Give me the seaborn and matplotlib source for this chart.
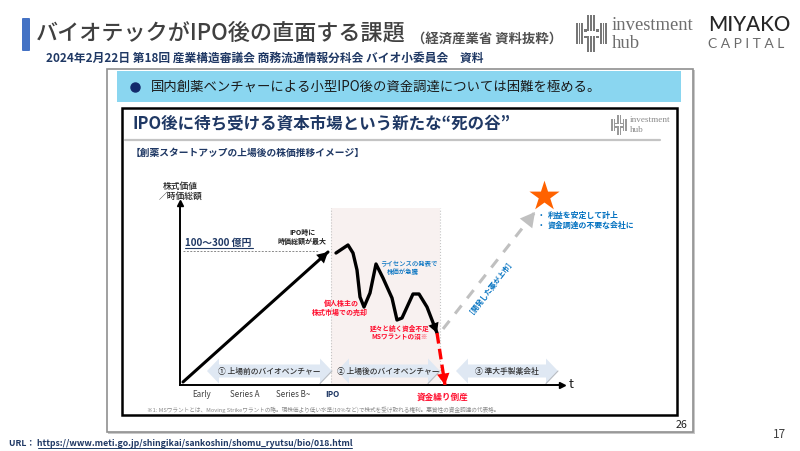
import matplotlib.pyplot as plt
import pandas as pd
import seaborn as sns
from matplotlib.patches import FancyBboxPatch, Polygon, Rectangle

W, H = 800, 451
NAVY = "#1f3864"
BLUE = "#0070c0"
RED = "#ff0d2d"

# values, x = time, y = market value (chart units)
pre_ipo_time = [3, 148]
pre_ipo_value = [3, 133]
post_ipo_time = [156, 168, 173, 177, 180, 184, 190, 196, 203, 212, 217, 222, 233, 239, 247, 257]
post_ipo_value = [132, 140, 132, 115, 88, 78, 92, 121, 107, 87, 65, 67, 91, 91, 78, 52]
failure_time = [257, 265]
failure_value = [52, 0]
success_time = [263, 355]
success_value = [56, 173]
star_time = [364]
star_value = [189]
ipo_window = [151, 260]
peak_value = 134

tick_pos = [21.5, 65, 113, 152]
tick_labels = ["Early", "Series A", "Series B~", "IPO"]
stage_names = ["① 上場前のバイオベンチャー", "② 上場後のバイオベンチャー", "③ 準大手製薬会社"]
stage_start = [27, 157, 276]
stage_end = [152, 260, 378]

sns.set_style("white")
plt.rcParams["font.family"] = ["Noto Sans CJK JP", "DejaVu Sans"]

fig = plt.figure(figsize=(W / 100, H / 100), dpi=100)


def label(x, y, s, size, color="#000000", weight="normal", ha="left", **kw):
    return fig.text(x / W, 1 - y / H, s, fontsize=size, color=color, fontweight=weight,
                    ha=ha, va="center", **kw)


# slide background, pixel coordinates
bg = fig.add_axes([0, 0, 1, 1], zorder=0)
bg.set_xlim(0, W)
bg.set_ylim(H, 0)
bg.axis("off")

bg.add_patch(FancyBboxPatch((23, 19), 6, 31, boxstyle="round,pad=1", fc="#4472c4", ec="none"))
bg.add_patch(Rectangle((108, 70), 587, 364, fc="#c8c8c8", ec="none"))
bg.add_patch(Rectangle((106.5, 68.5), 586, 363, fc="white", ec="#909090", lw=1.2))
bg.add_patch(Rectangle((117, 71), 564, 31, fc="#8ad6f0", ec="none"))
bg.add_patch(Rectangle((123, 109), 555, 307, fc="#b0b0b0", ec="none"))
bg.add_patch(Rectangle((121.5, 107.5), 555, 307, fc="white", ec="black", lw=1.8))
bg.plot([125, 660], [139.5, 139.5], color="#c4c4c4", lw=1.6)
bg.plot([0, W], [450.5, 450.5], color="#ececec", lw=0.8)
bg.plot([135], [87], "o", color="#12296b", ms=6.5)
bg.plot([38, 352], [448, 448], color=NAVY, lw=0.7)
bg.plot([185, 253], [248, 248], color=NAVY, lw=0.8)


def hub_logo(x, y, w, h, color):
    # striped building-block mark of the investment hub logo
    sw = w * 0.055
    for i in range(3):
        bg.add_patch(Rectangle((x + i * 1.6 * sw, y + h * 0.22), sw, h * 0.56, fc=color, ec="none"))
        bg.add_patch(Rectangle((x + w - sw - i * 1.6 * sw, y + h * 0.22), sw, h * 0.56, fc=color, ec="none"))
        bg.add_patch(Rectangle((x + w * 0.37 + i * 1.6 * sw, y), sw, h * 0.44, fc=color, ec="none"))
        bg.add_patch(Rectangle((x + w * 0.37 + i * 1.6 * sw, y + h * 0.56), sw, h * 0.44, fc=color, ec="none"))
    for top in (0.38, 0.56):
        bg.add_patch(Rectangle((x + w * 0.27, y + h * top), w * 0.1, h * 0.07, fc=color, ec="none"))
        bg.add_patch(Rectangle((x + w * 0.63, y + h * top), w * 0.1, h * 0.07, fc=color, ec="none"))


hub_logo(576, 15, 31, 37, "#777777")
hub_logo(611, 115, 16, 20, "#999999")

# chart, data coordinates
chart = fig.add_axes([180 / W, 1 - 385 / H, 382 / W, 182 / H], zorder=1)
chart.patch.set_alpha(0)
chart.set_xlim(0, 382)
chart.set_ylim(0, 182)
chart.axvspan(*ipo_window, ymax=177 / 182, color="#f8f1f0", lw=0, zorder=0)
for x in ipo_window:
    chart.axvline(x, color="#c4c4c4", lw=0.8, ls=":", ymax=177 / 182, zorder=1)
chart.plot([3, 138], [peak_value, peak_value], color="#8a8a8a", lw=0.7, ls=(0, (2, 1.5)))

for start, end in zip(stage_start, stage_end):
    mid, hh, bh, hw = 14, 12.5, 6.5, 12
    pts = [(start, mid), (start + hw, mid + hh), (start + hw, mid + bh), (end - hw, mid + bh),
           (end - hw, mid + hh), (end, mid), (end - hw, mid - hh), (end - hw, mid - bh),
           (start + hw, mid - bh), (start + hw, mid - hh)]
    chart.add_patch(Polygon(pts, fc="#dfe8f3", ec="none", zorder=2))
    chart.plot([end - hw, end], [mid - hh, mid], color="#b8bcc2", lw=0.8, zorder=2)

path = pd.DataFrame({"time": post_ipo_time, "value": post_ipo_value})
pre = pd.DataFrame({"time": pre_ipo_time, "value": pre_ipo_value})
fail = pd.DataFrame({"time": failure_time, "value": failure_value})
up = pd.DataFrame({"time": success_time, "value": success_value})
sns.lineplot(data=pre, x="time", y="value", color="black", lw=2.2, sort=False, estimator=None, ax=chart, zorder=3)
sns.lineplot(data=path, x="time", y="value", color="black", lw=2.4, sort=False, estimator=None, ax=chart, zorder=3)
sns.lineplot(data=fail, x="time", y="value", color="#ff0000", lw=2.4, sort=False, estimator=None, ax=chart,
             zorder=3, linestyle=(0, (3.2, 1.6)))
sns.lineplot(data=up, x="time", y="value", color="#c0c0c0", lw=2.2, sort=False, estimator=None, ax=chart,
             zorder=3, linestyle=(0, (3.4, 3)))
sns.scatterplot(x=star_time, y=star_value, marker="*", s=520, color="#ff6200", lw=0, ax=chart, zorder=4,
                clip_on=False)


def head(frm, to, color, size=11):
    chart.annotate("", xy=to, xytext=frm, zorder=5,
                   arrowprops=dict(arrowstyle="-|>,head_width=0.3,head_length=0.55", color=color,
                                   lw=0, mutation_scale=size, shrinkA=0, shrinkB=0))


head((pre_ipo_time[0], pre_ipo_value[0]), (pre_ipo_time[1], pre_ipo_value[1]), "black", 14)
head((post_ipo_time[-2], post_ipo_value[-2]), (post_ipo_time[-1], post_ipo_value[-1]), "black", 13)
head((failure_time[0], failure_value[0]), (failure_time[1], failure_value[1]), "#ff0000", 15)
head((success_time[0], success_value[0]), (success_time[1], success_value[1]), "#c0c0c0", 19)

sns.despine(ax=chart)
for side in ("left", "bottom"):
    chart.spines[side].set_linewidth(1.4)
    chart.spines[side].set_color("black")
chart.plot(1, 0, ">k", ms=4, transform=chart.transAxes, clip_on=False)
chart.plot(0, 1, "^k", ms=4, transform=chart.transAxes, clip_on=False)

chart.set_xlabel("")
chart.set_ylabel("")
chart.set_yticks([])
chart.set_xticks(tick_pos, tick_labels, fontsize=5.8, color="#404040")
chart.tick_params(axis="x", length=0, pad=3.5)
ipo_tick = chart.get_xticklabels()[-1]
ipo_tick.set_color(NAVY)
ipo_tick.set_fontweight("bold")

for name, start, end in zip(stage_names, stage_start, stage_end):
    label(180 + (start + end) / 2, 371, name, 5.6, "#303030", "medium", ha="center")

# slide text
label(36, 33, "バイオテックがIPO後の直面する課題", 15.9, "#404040", "medium")
label(412, 39, "（経済産業省 資料抜粋）", 9.6, "#505050", "bold")
label(46, 58.5, "2024年2月22日 第18回 産業構造審議会 商務流通情報分科会 バイオ小委員会　資料", 8.45, NAVY, "bold")
label(151, 87, "国内創薬ベンチャーによる小型IPO後の資金調達については困難を極める。", 9.6, "#1a1a1a")
label(132, 124, "IPO後に待ち受ける資本市場という新たな“死の谷”", 11.9, NAVY, "bold")
label(131, 153, "【創薬スタートアップの上場後の株価推移イメージ】", 7, NAVY, "bold")
label(163, 186, "株式価値", 6.3, "#202020", "medium")
label(159, 196, "／時価総額", 6.3, "#202020", "medium")
label(185, 243, "100～300 億円", 7.1, NAVY, "bold")
label(302, 232, "IPO時に", 5, "#202020", "bold", ha="center")
label(302, 241, "時価総額が最大", 5, "#202020", "bold", ha="center")
label(409, 263, "ライセンスの発表で", 4.6, BLUE, "medium", ha="center")
label(403, 272, "株価が急騰", 4.6, BLUE, "medium", ha="center")
label(341, 303, "個人株主の", 5, RED, "bold", ha="center")
label(340, 312, "株式市場での売却", 5, RED, "bold", ha="center")
label(400, 328, "延々と続く資金不足", 4.8, RED, "bold", ha="center")
label(400, 337, "MSワラントの沼※", 4.8, RED, "bold", ha="center")
label(540, 215.5, "•", 5.5, BLUE)
label(540, 225.5, "•", 5.5, BLUE)
label(548, 215.5, "利益を安定して計上", 5.7, BLUE, "bold")
label(548, 225.5, "資金調達の不要な会社に", 5.7, BLUE, "bold")
label(489, 285, "［開発した薬が上市］", 5.1, BLUE, "bold", ha="center", rotation=52, rotation_mode="anchor")
label(443, 397, "資金繰り倒産", 6.2, RED, "bold", ha="center")
label(569, 384, "t", 9.5, "#202020")
label(147, 409.5, "※1: MSワラントとは、Moving Strikeワラントの略。現株価より低い水準(10%など)で株式を受け取れる権利。悪質性の資金調達の代表格。",
      4.1, "#8a8a8a")
label(676, 425.5, "26", 7.7, "#202020")
label(773, 434, "17", 8.5, "#404040")
label(9, 444, "URL： https://www.meti.go.jp/shingikai/sankoshin/shomu_ryutsu/bio/018.html", 6.25, NAVY, "bold")

# logos as text
label(612, 25.5, "investment", 13.4, "#6e6e6e", family="Liberation Serif")
label(612, 43, "hub", 13.4, "#6e6e6e", family="Liberation Serif")
label(708, 25, "MIYAKO", 14.8, "#262626", "medium", family="Lato")
label(708, 44.5, "C A P I T A L", 10, "#6a6a6a", family="Lato")
label(630, 120, "investment", 6.6, "#8a8a8a", family="Liberation Serif")
label(630, 130, "hub", 6.6, "#8a8a8a", family="Liberation Serif")

fig.savefig("out.png", dpi=100)
